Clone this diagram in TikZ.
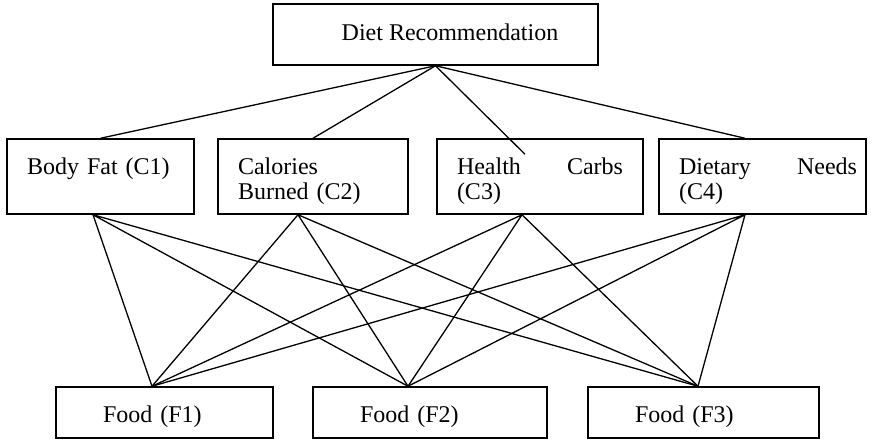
\documentclass[tikz,border=0pt]{standalone}
\usepackage{fontspec}
\setmainfont{Liberation Serif}

\tikzset{
  box/.style={draw, line width=0.75pt, inner ysep=0pt, align=left,
    font=\fontsize{12pt}{12.5pt}\selectfont},
  goalbox/.style={box, inner xsep=0pt, minimum width=162.5pt,
    text height=18pt, text depth=12.5pt},
  critbox/.style={box, inner xsep=10pt, text width=#1,
    text height=17.5pt, text depth=20pt},
  foodbox/.style={box, inner xsep=23.5pt, text width=#1,
    text height=17.5pt, text depth=8pt},
  link/.style={line width=0.65pt}
}

\begin{document}
\begin{tikzpicture}[x=0.5pt,y=-0.5pt]
  \useasboundingbox (0,0) rectangle (872,440);
  % goal
  \node[goalbox] (goal) at (435.5,34.5) {\hspace*{14.5pt}Diet Recommendation};
  % criteria
  \node[critbox=73.5pt] (c1) at (100.5,176.5) {Body Fat (C1)};
  \node[critbox=75pt] (c2) at (313,176.5) {Calories\\Burned (C2)};
  \node[critbox=83pt] (c3) at (540,176.5) {Health\hfill Carbs\\(C3)};
  \node[critbox=83.5pt] (c4) at (762.5,176.5) {Dietary\hfill Needs\kern-5.5pt\\(C4)};
  % alternatives
  \node[foodbox=61.5pt] (f1) at (164.5,412.5) {Food (F1)};
  \node[foodbox=70pt] (f2) at (430,412.5) {Food (F2)};
  \node[foodbox=68.5pt] (f3) at (703.5,412.5) {Food (F3)};

  \draw[link] (goal.south) -- (c1.north);
  \draw[link] (goal.south) -- (c2.north);
  \draw[link] (goal.south) -- ([shift={(-15,16)}]c3.north);
  \draw[link] (goal.south) -- ([shift={(-17.5,0)}]c4.north);

  % every criterion to every food
  \coordinate (c1b) at ([shift={(-7.5,0)}]c1.south);
  \coordinate (c2b) at ([shift={(-15,0)}]c2.south);
  \coordinate (c3b) at ([shift={(-18,0)}]c3.south);
  \coordinate (c4b) at ([shift={(-17.5,0)}]c4.south);
  \coordinate (f1t) at ([shift={(-12.5,0)}]f1.north);
  \coordinate (f2t) at ([shift={(-22,0)}]f2.north);
  \coordinate (f3t) at ([shift={(-5.5,0)}]f3.north);
  \draw[link] (c1b) -- (f1t) (c1b) -- (f2t) (c1b) -- (f3t);
  \draw[link] (c2b) -- (f1t) (c2b) -- (f2t) (c2b) -- (f3t);
  \draw[link] (c3b) -- (f1t) (c3b) -- (f2t) (c3b) -- (f3t);
  \draw[link] (c4b) -- (f1t) (c4b) -- (f2t) (c4b) -- (f3t);
\end{tikzpicture}
\end{document}
